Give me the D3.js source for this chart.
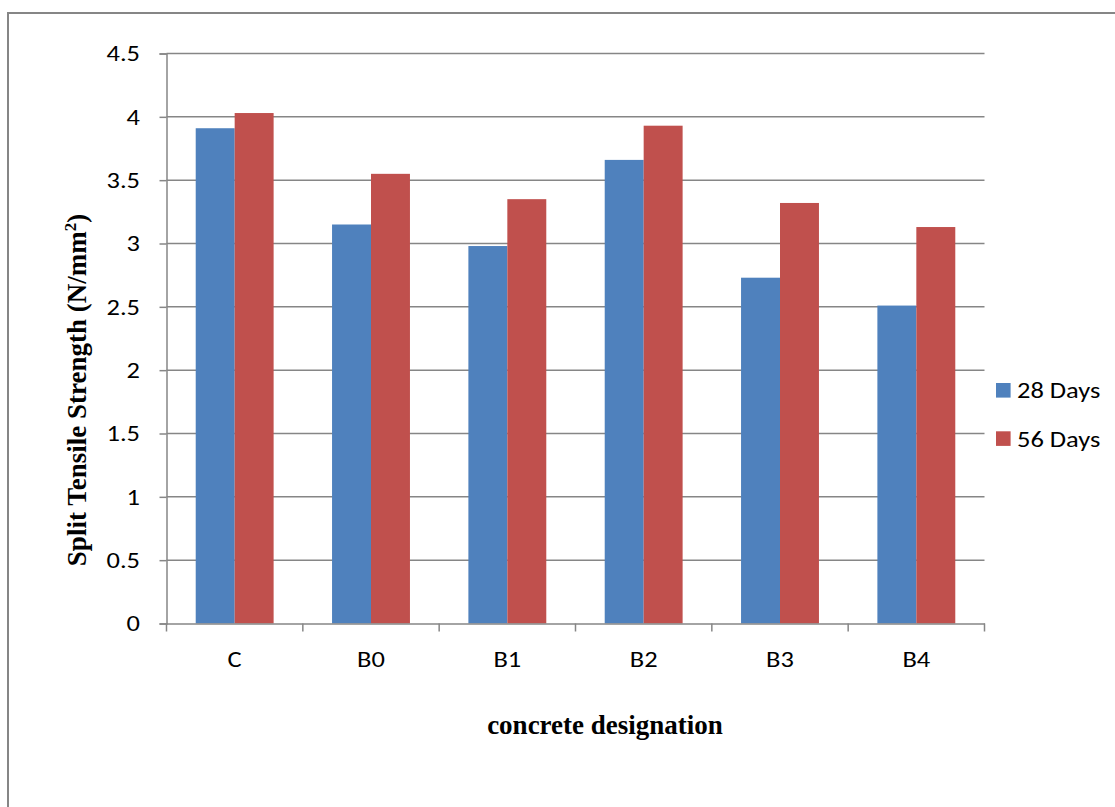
<!DOCTYPE html>
<html>
<head>
<meta charset="utf-8">
<script src="https://cdn.jsdelivr.net/npm/d3@7"></script>
<style>
  html, body { margin: 0; padding: 0; background: #fff; }
  svg { display: block; }
</style>
</head>
<body>
<svg id="chart" width="1115" height="807"></svg>
<script>
// Split tensile strength by concrete designation
const categories = ["C", "B0", "B1", "B2", "B3", "B4"];
const seriesNames = ["28 Days", "56 Days"];
const days28 = [3.91, 3.15, 2.98, 3.66, 2.73, 2.51];
const days56 = [4.03, 3.55, 3.35, 3.93, 3.32, 3.13];
const yTicks = [0, 0.5, 1, 1.5, 2, 2.5, 3, 3.5, 4, 4.5];
const colors = ["#4F81BD", "#C0504D"];

const seriesValues = [days28, days56];
const rows = categories.map((c, i) => ({
  cat: c,
  vals: seriesValues.map((s, k) => ({ key: seriesNames[k], value: s[i], k }))
}));

const svg = d3.select("#chart");
const plot = { left: 166.5, right: 984.5, top: 53.5, bottom: 623.5 };
const gridColor = "#868686";
const labelFont = "Carlito, Calibri, Lato, 'Open Sans', sans-serif";
const serifFont = "'Liberation Serif', 'Times New Roman', serif";
const labelSize = 23;
const widen = 1.15;

// Slightly wider label lettering
function stretch(sel, k) {
  sel.each(function () {
    const len = this.getComputedTextLength();
    this.setAttribute("textLength", len * k);
    this.setAttribute("lengthAdjust", "spacingAndGlyphs");
  });
}

// Outer chart frame
svg.append("rect")
  .attr("x", 8).attr("y", 13)
  .attr("width", 1200).attr("height", 900)
  .attr("fill", "none").attr("stroke", gridColor).attr("stroke-width", 2);

const x = d3.scaleBand().domain(categories).range([plot.left, plot.right]).paddingInner(0).paddingOuter(0);
const y = d3.scaleLinear().domain([0, 4.5]).range([plot.bottom, plot.top]);
const groupPad = 0.75 / 3.5; // gap width 150% of a bar, split on both sides
const x1 = d3.scaleBand().domain(seriesNames)
  .range([x.bandwidth() * groupPad, x.bandwidth() * (1 - groupPad)]);

// Horizontal gridlines
svg.append("g")
  .selectAll("line")
  .data(yTicks.filter(t => t > 0))
  .join("line")
  .attr("x1", plot.left).attr("x2", plot.right)
  .attr("y1", d => y(d)).attr("y2", d => y(d))
  .attr("stroke", gridColor).attr("stroke-width", 1.5);

// Bars
svg.append("g")
  .selectAll("g")
  .data(rows)
  .join("g")
  .attr("transform", d => `translate(${x(d.cat)},0)`)
  .selectAll("rect")
  .data(d => d.vals)
  .join("rect")
  .attr("x", d => x1(d.key))
  .attr("width", x1.bandwidth())
  .attr("y", d => y(d.value))
  .attr("height", d => y(0) - y(d.value))
  .attr("fill", d => colors[d.k]);

// Y axis
const yAxis = d3.axisLeft(y).tickValues(yTicks).tickSize(7).tickPadding(19.5)
  .tickFormat(d3.format("~g"));
const gy = svg.append("g").attr("transform", `translate(${plot.left},0)`).call(yAxis);
gy.select(".domain").attr("stroke", gridColor).attr("stroke-width", 1.5);
gy.selectAll(".tick line").attr("stroke", gridColor).attr("stroke-width", 1.5);
gy.selectAll(".tick text")
  .attr("font-family", labelFont).attr("font-size", labelSize).attr("fill", "#000")
  .call(stretch, widen);

// X axis
const xAxis = d3.axisBottom(x).tickSize(0).tickPadding(0);
const gx = svg.append("g").attr("transform", `translate(0,${plot.bottom})`).call(xAxis);
gx.select(".domain").attr("stroke", gridColor).attr("stroke-width", 1.5);
gx.selectAll(".tick text")
  .attr("y", 43.5).attr("dy", 0)
  .attr("font-family", labelFont).attr("font-size", labelSize).attr("fill", "#000")
  .call(stretch, widen);
// Category boundary tick marks
gx.append("g").selectAll("line")
  .data(categories.map(c => x(c)).concat([plot.right]))
  .join("line")
  .attr("x1", d => d).attr("x2", d => d)
  .attr("y1", 0).attr("y2", 8)
  .attr("stroke", gridColor).attr("stroke-width", 1.5);

// Axis titles
const yTitle = svg.append("text")
  .attr("transform", `translate(86,390) rotate(-90)`)
  .attr("text-anchor", "middle")
  .attr("font-family", serifFont)
  .attr("font-weight", "bold").attr("font-size", 27).attr("fill", "#000");
yTitle.append("tspan").text("Split Tensile Strength (N/mm");
yTitle.append("tspan").attr("dy", -10).attr("font-size", 17).text("2");
yTitle.append("tspan").attr("dy", 10).text(")");

svg.append("text")
  .attr("x", 605).attr("y", 734)
  .attr("text-anchor", "middle")
  .attr("font-family", serifFont)
  .attr("font-weight", "bold").attr("font-size", 27).attr("fill", "#000")
  .text("concrete designation");

// Legend
const legend = svg.append("g").attr("transform", "translate(996,383)");
const items = legend.selectAll("g").data(seriesNames).join("g")
  .attr("transform", (d, i) => `translate(0,${i * 48.3})`);
items.append("rect").attr("width", 14.6).attr("height", 14.6)
  .attr("fill", (d, i) => colors[i]);
items.append("text").attr("x", 21).attr("y", 15.3)
  .attr("font-family", labelFont).attr("font-size", labelSize).attr("fill", "#000")
  .text(d => d)
  .call(stretch, widen);
</script>
</body>
</html>
